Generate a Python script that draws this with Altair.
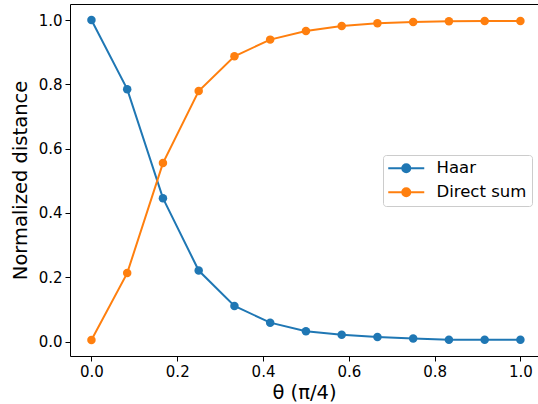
import altair as alt
import pandas as pd

theta = [0.0, 1/12, 2/12, 3/12, 4/12, 5/12, 6/12, 7/12, 8/12, 9/12, 10/12, 11/12, 1.0]
haar = [1.0, 0.785, 0.446, 0.221, 0.111, 0.059, 0.032, 0.021, 0.0145, 0.0093, 0.006, 0.0058, 0.0057]
direct_sum = [0.005, 0.213, 0.555, 0.779, 0.887, 0.939, 0.966, 0.981, 0.990, 0.994, 0.996, 0.997, 0.997]
series_names = ["Haar", "Direct sum"]
colors = ["#1f77b4", "#ff7f0e"]

rows = []
for name, vals in zip(series_names, [haar, direct_sum]):
    for t, v in zip(theta, vals):
        rows.append({"theta": t, "value": v, "series": name})
df = pd.DataFrame(rows)

# legend symbol: a line with a filled dot (concentric circles stroked)
sym = "M-3.6,0L3.6,0"
for r in [0.8, 0.55, 0.3, 0.1]:
    sym += f"M{r},0A{r},{r},0,1,1,{-r},0A{r},{r},0,1,1,{r},0"

font = "DejaVu Sans"
chart = alt.Chart(df).mark_line(
    strokeWidth=2,
    point=alt.OverlayMarkDef(filled=True, size=72, opacity=1),
).encode(
    x=alt.X("theta:Q", scale=alt.Scale(domain=[-0.05, 1.041], nice=False, zero=False),
            axis=alt.Axis(values=[0, 0.2, 0.4, 0.6, 0.8, 1.0], format=".1f",
                          title="θ (π/4)", grid=False)),
    y=alt.Y("value:Q", scale=alt.Scale(domain=[-0.04475, 1.04975], nice=False, zero=False),
            axis=alt.Axis(values=[0, 0.2, 0.4, 0.6, 0.8, 1.0], format=".1f",
                          title="Normalized distance", grid=False)),
    color=alt.Color("series:N", scale=alt.Scale(domain=series_names, range=colors),
                    legend=alt.Legend(title=None, orient="none", legendX=313, legendY=151,
                                      symbolType=sym, symbolSize=100, symbolStrokeWidth=2,
                                      symbolOffset=10, labelOffset=22,
                                      labelFontSize=16.5, labelFont=font, labelColor="black",
                                      rowPadding=7, padding=5,
                                      strokeColor="#cccccc", fillColor="rgba(255,255,255,0.8)",
                                      cornerRadius=3)),
    order=alt.Order("theta:Q"),
).properties(
    width=468, height=352,
    padding={"left": 70, "top": 4, "right": 0, "bottom": 48},
    autosize=alt.AutoSizeParams(type="none"),
).configure_view(
    stroke="black", strokeWidth=1,
).configure_axis(
    domain=False, tickColor="black", tickSize=5, tickWidth=1,
    labelFont=font, labelFontSize=15, labelColor="black", labelPadding=3,
    titleFont=font, titleFontSize=19.5, titleColor="black", titleFontWeight="normal",
).configure_axisX(titlePadding=4).configure_axisY(titlePadding=8)

chart.save("out.html", embed_options={"renderer": "svg", "actions": False})
